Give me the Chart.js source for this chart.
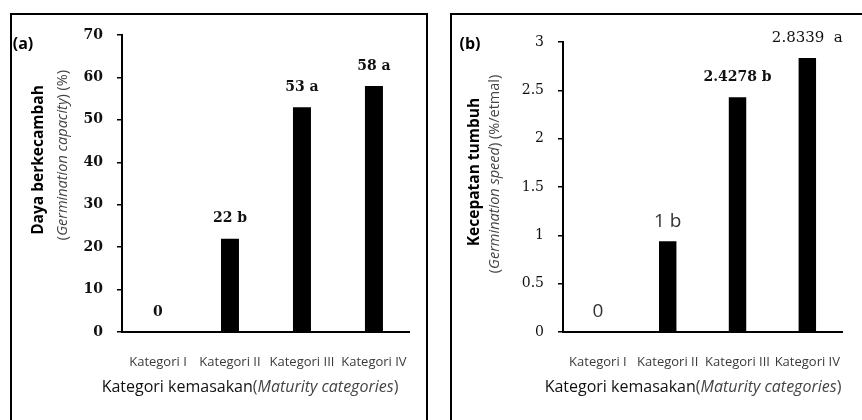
<!DOCTYPE html>
<html>
<head>
<meta charset="utf-8">
<script src="https://cdn.jsdelivr.net/npm/chart.js@4"></script>
<style>
  html, body { margin: 0; padding: 0; background: #fff; overflow: hidden; }
  body { width: 862px; height: 420px; position: relative; }
  .panel { position: absolute; top: 13px; height: 440px; border: 2px solid #000; box-sizing: border-box; }
  #boxA { left: 10px; width: 418px; }
  #boxB { left: 450px; width: 460px; }
  canvas { position: absolute; top: 0; }
  #chartA { left: 0; }
  #chartB { left: 431px; }
</style>
</head>
<body>
<div class="panel" id="boxA"></div>
<div class="panel" id="boxB"></div>
<canvas id="chartA" width="431" height="420"></canvas>
<canvas id="chartB" width="431" height="420"></canvas>
<script>
const categories = ['Kategori I', 'Kategori II', 'Kategori III', 'Kategori IV'];

// (a) daya berkecambah (%)
const capacityValues = [0, 22, 53, 58];
const capacityLabels = ['0', '22 b', '53 a', '58 a'];
const capacityMax = 70;
const capacityStep = 10;

// (b) kecepatan tumbuh (%/etmal)
const speedValues = [0, 0.94, 2.4278, 2.8339];
const speedLabels = ['0', '1 b', '2.4278 b', '2.8339  a'];
const speedMax = 3;
const speedStep = 0.5;

const SANS = '"Open Sans", "Liberation Sans", sans-serif';
const SERIF = '"DejaVu Serif", "Liberation Serif", serif';

// draw a line made of several font runs, centered on (x, y)
function drawRich(ctx, parts, x, y, rotate) {
  ctx.save();
  ctx.translate(x, y);
  if (rotate) ctx.rotate(-Math.PI / 2);
  ctx.textBaseline = 'middle';
  ctx.textAlign = 'left';
  let total = 0;
  parts.forEach(p => { ctx.font = p.font; p.w = ctx.measureText(p.text).width; total += p.w; });
  let cx = -total / 2;
  parts.forEach(p => {
    ctx.font = p.font;
    ctx.fillStyle = p.color || '#000';
    ctx.fillText(p.text, cx, 0);
    cx += p.w;
  });
  ctx.restore();
}

const panelText = {
  id: 'panelText',
  afterDraw(chart, args, opts) {
    const ctx = chart.ctx;
    (opts.lines || []).forEach(l => drawRich(ctx, l.parts, l.x, l.y, l.rotate));
    const meta = chart.getDatasetMeta(0);
    const labels = opts.barLabels || [];
    meta.data.forEach((bar, i) => {
      const lab = labels[i];
      if (!lab) return;
      drawRich(ctx, [{ text: lab.text, font: lab.font, color: lab.color }], bar.x, bar.y - 20, false);
    });
  }
};

function makeChart(id, values, max, step, pad, yWidth, tickFont, extra) {
  return new Chart(document.getElementById(id), {
    type: 'bar',
    data: {
      labels: categories,
      datasets: [{
        data: values,
        backgroundColor: '#000',
        borderWidth: 0,
        barPercentage: 0.25,
        categoryPercentage: 1
      }]
    },
    options: {
      responsive: false,
      animation: false,
      events: [],
      layout: { autoPadding: false, padding: pad },
      plugins: { legend: { display: false }, tooltip: { enabled: false }, panelText: extra },
      scales: {
        x: {
          grid: { display: false, drawTicks: false },
          border: { color: '#000', width: 2 },
          ticks: { color: '#3a3a3a', font: { family: SANS, size: 13 }, padding: 22, maxRotation: 0, autoSkip: false },
          afterFit: s => { s.height = 420 - 332; }
        },
        y: {
          min: 0, max: max,
          grid: { drawOnChartArea: false, drawTicks: true, tickLength: 5, color: '#000', lineWidth: 1.5 },
          border: { color: '#000', width: 2 },
          ticks: { stepSize: step, color: '#111', font: tickFont, padding: 14, callback: v => String(v) },
          afterFit: s => { s.width = yWidth; }
        }
      }
    },
    plugins: [panelText]
  });
}

makeChart('chartA', capacityValues, capacityMax, capacityStep,
  { top: 35, right: 19, left: 0, bottom: 0 }, 122,
  { family: SERIF, size: 14, weight: 'bold' },
  {
    lines: [
      { x: 23, y: 44, parts: [{ text: '(a)', font: 'bold 16px ' + SANS }] },
      { x: 39, y: 160, rotate: true, parts: [{ text: 'Daya berkecambah', font: 'bold 15.5px ' + SANS }] },
      { x: 63, y: 155, rotate: true, parts: [
        { text: '(', font: '14.5px ' + SANS, color: '#444' },
        { text: 'Germination capacity', font: 'italic 14.5px ' + SANS, color: '#444' },
        { text: ') (%)', font: '14.5px ' + SANS, color: '#444' }] },
      { x: 250, y: 387, parts: [
        { text: 'Kategori kemasakan', font: '16px ' + SANS, color: '#111' },
        { text: '(', font: '16px ' + SANS, color: '#444' },
        { text: 'Maturity categories', font: 'italic 16px ' + SANS, color: '#444' },
        { text: ')', font: '16px ' + SANS, color: '#444' }] }
    ],
    barLabels: capacityLabels.map(t => ({ text: t, font: 'bold 14px ' + SERIF, color: '#111' }))
  });

const speedFonts = ['19px ' + SANS, '19px ' + SANS, 'bold 14px ' + SERIF, '15px ' + SERIF];
makeChart('chartB', speedValues, speedMax, speedStep,
  { top: 42, right: 0, left: 0, bottom: 0 }, 132,
  { family: SERIF, size: 14 },
  {
    lines: [
      { x: 39, y: 44, parts: [{ text: '(b)', font: 'bold 16px ' + SANS }] },
      { x: 44, y: 172, rotate: true, parts: [{ text: 'Kecepatan tumbuh', font: 'bold 15.5px ' + SANS }] },
      { x: 64, y: 174, rotate: true, parts: [
        { text: '(', font: '14.5px ' + SANS, color: '#444' },
        { text: 'Germination speed', font: 'italic 14.5px ' + SANS, color: '#444' },
        { text: ') (%/etmal)', font: '14.5px ' + SANS, color: '#444' }] },
      { x: 262, y: 387, parts: [
        { text: 'Kategori kemasakan', font: '16px ' + SANS, color: '#111' },
        { text: '(', font: '16px ' + SANS, color: '#444' },
        { text: 'Maturity categories', font: 'italic 16px ' + SANS, color: '#444' },
        { text: ')', font: '16px ' + SANS, color: '#444' }] }
    ],
    barLabels: speedLabels.map((t, i) => ({ text: t, font: speedFonts[i], color: i < 2 ? '#333' : '#111' }))
  });
</script>
</body>
</html>
